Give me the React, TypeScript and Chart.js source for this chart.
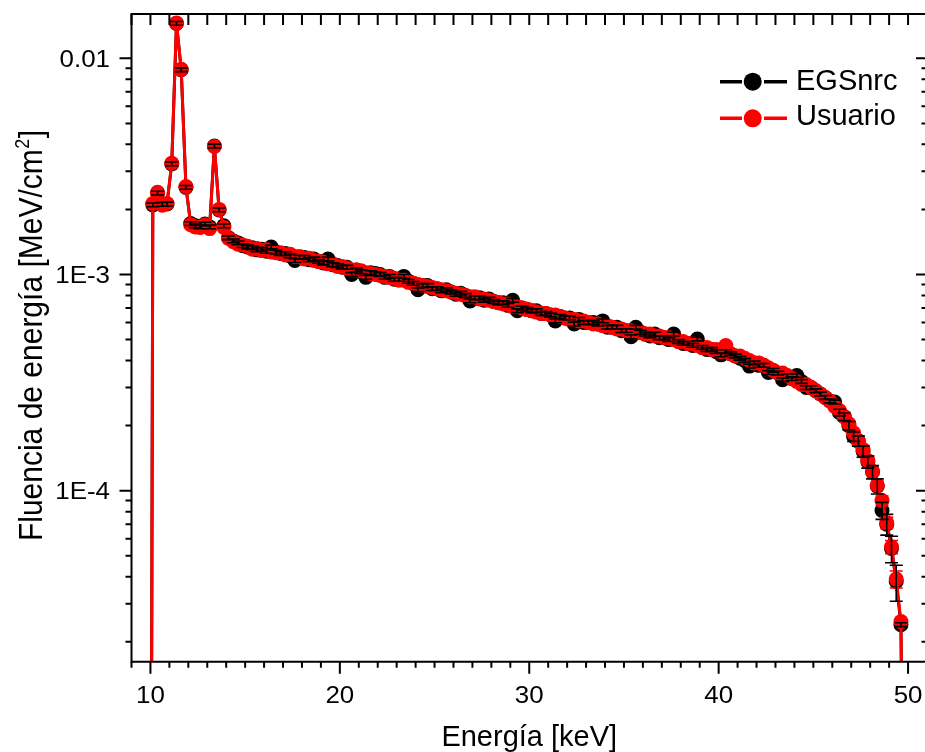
import React, { useEffect, useRef } from "react";
import { Chart, registerables } from "chart.js";

Chart.register(...registerables);

// ---------------- data ----------------
// energy bin centres [keV] (first entry: start of the spectrum, empty bin)
const energies = [
  10.0,
  10.125, 10.375, 10.625, 10.875, 11.125, 11.375, 11.625, 11.875,
  12.125, 12.375, 12.625, 12.875, 13.125, 13.375, 13.625, 13.875,
  14.125, 14.375, 14.625, 14.875, 15.125, 15.375, 15.625, 15.875,
  16.125, 16.375, 16.625, 16.875, 17.125, 17.375, 17.625, 17.875,
  18.125, 18.375, 18.625, 18.875, 19.125, 19.375, 19.625, 19.875,
  20.125, 20.375, 20.625, 20.875, 21.125, 21.375, 21.625, 21.875,
  22.125, 22.375, 22.625, 22.875, 23.125, 23.375, 23.625, 23.875,
  24.125, 24.375, 24.625, 24.875, 25.125, 25.375, 25.625, 25.875,
  26.125, 26.375, 26.625, 26.875, 27.125, 27.375, 27.625, 27.875,
  28.125, 28.375, 28.625, 28.875, 29.125, 29.375, 29.625, 29.875,
  30.125, 30.375, 30.625, 30.875, 31.125, 31.375, 31.625, 31.875,
  32.125, 32.375, 32.625, 32.875, 33.125, 33.375, 33.625, 33.875,
  34.125, 34.375, 34.625, 34.875, 35.125, 35.375, 35.625, 35.875,
  36.125, 36.375, 36.625, 36.875, 37.125, 37.375, 37.625, 37.875,
  38.125, 38.375, 38.625, 38.875, 39.125, 39.375, 39.625, 39.875,
  40.125, 40.375, 40.625, 40.875, 41.125, 41.375, 41.625, 41.875,
  42.125, 42.375, 42.625, 42.875, 43.125, 43.375, 43.625, 43.875,
  44.125, 44.375, 44.625, 44.875, 45.125, 45.375, 45.625, 45.875,
  46.125, 46.375, 46.625, 46.875, 47.125, 47.375, 47.625, 47.875,
  48.125, 48.375, 48.625, 48.875, 49.125, 49.375, 49.625, 49.875,
];

// EGSnrc energy fluence [MeV/cm^2]
const egsnrc = [
  1e-7,
  2.10e-3, 2.38e-3, 2.11e-3, 2.12e-3, 3.25e-3, 1.45e-2, 8.85e-3, 2.53e-3,
  1.72e-3, 1.68e-3, 1.66e-3, 1.71e-3, 1.66e-3, 3.93e-3, 1.99e-3, 1.68e-3,
  1.48e-3, 1.43e-3, 1.40e-3, 1.36e-3, 1.34e-3, 1.33e-3, 1.30e-3, 1.31e-3,
  1.28e-3, 1.34e-3, 1.27e-3, 1.25e-3, 1.25e-3, 1.22e-3, 1.16e-3, 1.20e-3,
  1.20e-3, 1.17e-3, 1.18e-3, 1.15e-3, 1.13e-3, 1.18e-3, 1.11e-3, 1.10e-3,
  1.08e-3, 1.08e-3, 1.00e-3, 1.05e-3, 1.03e-3, 9.7e-4, 1.02e-3, 1.01e-3,
  1.00e-3, 9.7e-4, 9.8e-4, 9.5e-4, 9.5e-4, 9.8e-4, 9.3e-4, 9.1e-4,
  8.5e-4, 8.9e-4, 8.9e-4, 8.6e-4, 8.6e-4, 8.4e-4, 8.5e-4, 8.3e-4,
  8.1e-4, 8.2e-4, 8.0e-4, 7.55e-4, 7.8e-4, 7.8e-4, 7.6e-4, 7.7e-4,
  7.5e-4, 7.4e-4, 7.4e-4, 7.2e-4, 7.6e-4, 6.8e-4, 7.0e-4, 6.9e-4,
  6.8e-4, 6.8e-4, 6.6e-4, 6.6e-4, 6.5e-4, 6.1e-4, 6.4e-4, 6.3e-4,
  6.3e-4, 5.9e-4, 6.2e-4, 6.0e-4, 6.0e-4, 6.0e-4, 5.9e-4, 6.1e-4,
  5.7e-4, 5.7e-4, 5.7e-4, 5.5e-4, 5.5e-4, 5.15e-4, 5.7e-4, 5.4e-4,
  5.3e-4, 5.2e-4, 5.3e-4, 5.1e-4, 5.1e-4, 5.0e-4, 5.3e-4, 4.9e-4,
  4.8e-4, 4.8e-4, 4.7e-4, 5.03e-4, 4.6e-4, 4.5e-4, 4.5e-4, 4.4e-4,
  4.25e-4, 4.4e-4, 4.3e-4, 4.2e-4, 4.1e-4, 4.0e-4, 3.77e-4, 3.9e-4,
  3.8e-4, 3.8e-4, 3.52e-4, 3.6e-4, 3.5e-4, 3.26e-4, 3.4e-4, 3.3e-4,
  3.41e-4, 3.2e-4, 3.0e-4, 3.0e-4, 2.9e-4, 2.8e-4, 2.7e-4, 2.6e-4,
  2.57e-4, 2.3e-4, 2.2e-4, 2.0e-4, 1.78e-4, 1.70e-4, 1.52e-4, 1.36e-4,
  1.22e-4, 1.05e-4, 8.1e-5, 7.0e-5, 5.4e-5, 3.8e-5, 2.4e-5, 1e-7,
];

// Usuario energy fluence [MeV/cm^2]
const usuario = [
  1e-7,
  2.13e-3, 2.40e-3, 2.09e-3, 2.13e-3, 3.27e-3, 1.457e-2, 8.89e-3, 2.55e-3,
  1.70e-3, 1.66e-3, 1.65e-3, 1.70e-3, 1.63e-3, 3.91e-3, 2.00e-3, 1.65e-3,
  1.47e-3, 1.42e-3, 1.38e-3, 1.37e-3, 1.35e-3, 1.31e-3, 1.32e-3, 1.29e-3,
  1.30e-3, 1.27e-3, 1.26e-3, 1.26e-3, 1.23e-3, 1.24e-3, 1.21e-3, 1.21e-3,
  1.18e-3, 1.19e-3, 1.16e-3, 1.15e-3, 1.14e-3, 1.12e-3, 1.12e-3, 1.09e-3,
  1.09e-3, 1.07e-3, 1.05e-3, 1.05e-3, 1.04e-3, 1.02e-3, 1.01e-3, 1.00e-3,
  9.9e-4, 9.8e-4, 9.7e-4, 9.6e-4, 9.4e-4, 9.4e-4, 9.2e-4, 9.1e-4,
  9.0e-4, 8.9e-4, 8.8e-4, 8.7e-4, 8.6e-4, 8.5e-4, 8.4e-4, 8.3e-4,
  8.2e-4, 8.1e-4, 8.0e-4, 7.9e-4, 7.9e-4, 7.7e-4, 7.7e-4, 7.6e-4,
  7.5e-4, 7.4e-4, 7.3e-4, 7.3e-4, 7.1e-4, 7.1e-4, 7.0e-4, 6.9e-4,
  6.8e-4, 6.7e-4, 6.6e-4, 6.6e-4, 6.5e-4, 6.5e-4, 6.4e-4, 6.3e-4,
  6.2e-4, 6.2e-4, 6.1e-4, 6.1e-4, 6.0e-4, 5.9e-4, 5.9e-4, 5.8e-4,
  5.8e-4, 5.7e-4, 5.6e-4, 5.6e-4, 5.5e-4, 5.5e-4, 5.4e-4, 5.4e-4,
  5.3e-4, 5.3e-4, 5.2e-4, 5.2e-4, 5.1e-4, 5.1e-4, 5.0e-4, 4.9e-4,
  4.9e-4, 4.8e-4, 4.8e-4, 4.7e-4, 4.6e-4, 4.6e-4, 4.5e-4, 4.5e-4,
  4.4e-4, 4.69e-4, 4.3e-4, 4.2e-4, 4.2e-4, 4.1e-4, 4.0e-4, 3.9e-4,
  3.9e-4, 3.8e-4, 3.7e-4, 3.6e-4, 3.5e-4, 3.5e-4, 3.4e-4, 3.3e-4,
  3.2e-4, 3.1e-4, 3.1e-4, 3.0e-4, 2.9e-4, 2.8e-4, 2.7e-4, 2.6e-4,
  2.45e-4, 2.35e-4, 2.2e-4, 2.04e-4, 1.85e-4, 1.69e-4, 1.55e-4, 1.38e-4,
  1.23e-4, 1.06e-4, 9.0e-5, 7.1e-5, 5.5e-5, 3.9e-5, 2.48e-5, 1e-7,
];

// relative uncertainties (bulk value, then the high-energy tail from 46.375 keV)
const egsRelErrBulk = 0.02;
const usrRelErrBulk = 0.015;
const tailStartEnergy = 46.375;
const egsRelErrTail = [0.035, 0.04, 0.045, 0.05, 0.055, 0.06, 0.065, 0.07, 0.08, 0.09, 0.11, 0.14, 0.19];
const usrRelErrTail = [0.02, 0.02, 0.025, 0.03, 0.03, 0.035, 0.04, 0.04, 0.045, 0.05, 0.06, 0.07, 0.09];

const xTickValues = [10, 20, 30, 40, 50];
const xTickLabels = ["10", "20", "30", "40", "50"];
const yTickValues = [0.01, 1e-3, 1e-4];
const yTickLabels = ["0.01", "1E-3", "1E-4"];

const X_MIN = 9;
const X_MAX = 51;
const Y_MIN = 1.618e-5;
const Y_MAX = 0.01603;

const seriesNames = ["EGSnrc", "Usuario"];
const seriesColors = ["#000000", "#ff0000"];

// ---------------- layout ----------------
const CANVAS_W = 935;
const CANVAS_H = 752;
const AREA = { left: 131.5, top: 14, right: 927, bottom: 661.7 };
const FONT = '"Liberation Sans", Arial, Helvetica, sans-serif';

function relErrTable(bulk: number, tail: number[]) {
  const tailIndex = energies.indexOf(tailStartEnergy);
  return energies.map((_, i) =>
    i >= tailIndex && i - tailIndex < tail.length ? tail[i - tailIndex] : bulk
  );
}

function drawText(
  ctx: CanvasRenderingContext2D,
  s: string,
  x: number,
  y: number,
  size: number,
  align: CanvasTextAlign,
  sx = 1
) {
  ctx.save();
  ctx.translate(x, y);
  ctx.scale(sx, 1);
  ctx.font = `${size}px ${FONT}`;
  ctx.textAlign = align;
  ctx.textBaseline = "alphabetic";
  ctx.fillStyle = "#000";
  ctx.fillText(s, 0, 0);
  ctx.restore();
}

const errorBarPlugin = {
  id: "errorBars",
  afterDatasetsDraw(chart: any) {
    const ctx: CanvasRenderingContext2D = chart.ctx;
    const xs = chart.scales.x;
    const ys = chart.scales.y;
    const area = chart.chartArea;
    ctx.save();
    ctx.beginPath();
    ctx.rect(area.left, area.top, area.right - area.left, area.bottom - area.top);
    ctx.clip();
    const sets = [
      { vals: usuario, err: relErrTable(usrRelErrBulk, usrRelErrTail), color: seriesColors[1] },
      { vals: egsnrc, err: relErrTable(egsRelErrBulk, egsRelErrTail), color: seriesColors[0] },
    ];
    for (const s of sets) {
      ctx.strokeStyle = s.color;
      ctx.lineWidth = 1.6;
      for (let i = 0; i < energies.length; i++) {
        const v = s.vals[i];
        if (v < Y_MIN) continue;
        const px = xs.getPixelForValue(energies[i]);
        const pTop = ys.getPixelForValue(v * (1 + s.err[i]));
        const pBot = ys.getPixelForValue(v * (1 - s.err[i]));
        ctx.beginPath();
        ctx.moveTo(px, pTop);
        ctx.lineTo(px, pBot);
        ctx.moveTo(px - 6.5, pTop);
        ctx.lineTo(px + 6.5, pTop);
        ctx.moveTo(px - 6.5, pBot);
        ctx.lineTo(px + 6.5, pBot);
        ctx.stroke();
      }
    }
    ctx.restore();
  },
};

const framePlugin = {
  id: "originFrame",
  afterDraw(chart: any) {
    const ctx: CanvasRenderingContext2D = chart.ctx;
    const xs = chart.scales.x;
    const ys = chart.scales.y;
    const a = chart.chartArea;
    ctx.save();
    ctx.strokeStyle = "#000";
    ctx.lineWidth = 2;
    ctx.lineCap = "butt";
    // frame
    ctx.beginPath();
    ctx.moveTo(a.left, a.top);
    ctx.lineTo(a.right, a.top);
    ctx.moveTo(a.left, a.bottom);
    ctx.lineTo(a.right, a.bottom);
    ctx.moveTo(a.left, a.top - 1);
    ctx.lineTo(a.left, a.bottom + 1);
    ctx.moveTo(a.right, a.top - 1);
    ctx.lineTo(a.right, a.bottom + 1);
    ctx.stroke();

    // x ticks every 1 keV
    ctx.beginPath();
    for (let v = Math.ceil(X_MIN); v <= X_MAX; v++) {
      const px = xs.getPixelForValue(v);
      const major = v % 10 === 0;
      ctx.moveTo(px, a.bottom);
      ctx.lineTo(px, a.bottom + (major ? 12 : 6));
      ctx.moveTo(px, a.top);
      ctx.lineTo(px, a.top + 11);
    }
    // y ticks (log)
    for (let e = -5; e <= -2; e++) {
      for (let m = 1; m <= 9; m++) {
        const v = m * Math.pow(10, e);
        if (v < Y_MIN || v > Y_MAX) continue;
        const py = ys.getPixelForValue(v);
        const major = m === 1;
        ctx.moveTo(a.left, py);
        ctx.lineTo(a.left - (major ? 12 : 6), py);
        ctx.moveTo(a.right, py);
        ctx.lineTo(a.right - (major ? 11 : 5.5), py);
      }
    }
    ctx.stroke();

    // tick labels
    xTickValues.forEach((v, i) => {
      drawText(ctx, xTickLabels[i], xs.getPixelForValue(v), 703, 24, "center", 1.08);
    });
    yTickValues.forEach((v, i) => {
      drawText(ctx, yTickLabels[i], 110, ys.getPixelForValue(v) + 8.5, 24, "right", 1.08);
    });

    // x title
    drawText(ctx, "Energía [keV]", (a.left + a.right) / 2, 746, 29, "center", 1.0);

    // y title (rotated, with superscript)
    const main = "Fluencia de energía [MeV/cm";
    const sup = "2";
    const end = "]";
    ctx.save();
    ctx.font = `30px ${FONT}`;
    const w1 = ctx.measureText(main).width;
    const w3 = ctx.measureText(end).width;
    ctx.font = `18px ${FONT}`;
    const w2 = ctx.measureText(sup).width;
    const total = w1 + w2 + w3;
    ctx.translate(42, 336 + total / 2);
    ctx.rotate(-Math.PI / 2);
    ctx.scale(1, 1.08);
    ctx.fillStyle = "#000";
    ctx.textBaseline = "alphabetic";
    ctx.textAlign = "left";
    ctx.font = `30px ${FONT}`;
    ctx.fillText(main, 0, 0);
    ctx.font = `18px ${FONT}`;
    ctx.fillText(sup, w1 + 0.5, -12);
    ctx.font = `30px ${FONT}`;
    ctx.fillText(end, w1 + w2 + 1, 0);
    ctx.restore();

    // legend
    const rows = [
      { name: seriesNames[0], color: seriesColors[0], y: 81.7, base: 90 },
      { name: seriesNames[1], color: seriesColors[1], y: 118.3, base: 125 },
    ];
    for (const r of rows) {
      ctx.strokeStyle = r.color;
      ctx.fillStyle = r.color;
      ctx.lineWidth = 3.5;
      ctx.beginPath();
      ctx.moveTo(720, r.y);
      ctx.lineTo(742, r.y);
      ctx.moveTo(764, r.y);
      ctx.lineTo(787, r.y);
      ctx.stroke();
      ctx.beginPath();
      ctx.arc(752.7, r.y, 9, 0, Math.PI * 2);
      ctx.fill();
      drawText(ctx, r.name, 796, r.base, 29, "left", 1.0);
    }
    ctx.restore();
  },
};

export default function App() {
  const canvasRef = useRef<HTMLCanvasElement | null>(null);

  useEffect(() => {
    const canvas = canvasRef.current;
    if (!canvas) return;
    const mk = (vals: number[]) => energies.map((e, i) => ({ x: e, y: vals[i] }));
    const common = {
      borderWidth: 3,
      pointRadius: 7.5,
      pointBorderWidth: 0,
      pointHoverRadius: 7.5,
      tension: 0,
      clip: 0,
    };
    const chart = new Chart(canvas, {
      type: "line",
      data: {
        datasets: [
          {
            ...common,
            label: seriesNames[1],
            data: mk(usuario),
            borderColor: seriesColors[1],
            backgroundColor: seriesColors[1],
            pointBackgroundColor: seriesColors[1],
            pointBorderColor: seriesColors[1],
            order: 0,
          },
          {
            ...common,
            label: seriesNames[0],
            data: mk(egsnrc),
            borderColor: seriesColors[0],
            backgroundColor: seriesColors[0],
            pointBackgroundColor: seriesColors[0],
            pointBorderColor: seriesColors[0],
            order: 1,
          },
        ],
      },
      options: {
        responsive: false,
        animation: false,
        events: [],
        layout: {
          padding: {
            left: AREA.left,
            top: AREA.top,
            right: CANVAS_W - AREA.right,
            bottom: CANVAS_H - AREA.bottom,
          },
        },
        scales: {
          x: { type: "linear", min: X_MIN, max: X_MAX, display: false },
          y: { type: "logarithmic", min: Y_MIN, max: Y_MAX, display: false },
        },
        plugins: {
          legend: { display: false },
          tooltip: { enabled: false },
        },
      },
      plugins: [errorBarPlugin, framePlugin],
    } as any);
    return () => chart.destroy();
  }, []);

  return (
    <div
      style={{
        position: "absolute",
        left: 0,
        top: 0,
        width: 925,
        height: 752,
        overflow: "hidden",
        background: "#fff",
      }}
    >
      <canvas
        ref={canvasRef}
        width={CANVAS_W}
        height={CANVAS_H}
        style={{ display: "block", width: CANVAS_W, height: CANVAS_H }}
      />
    </div>
  );
}
